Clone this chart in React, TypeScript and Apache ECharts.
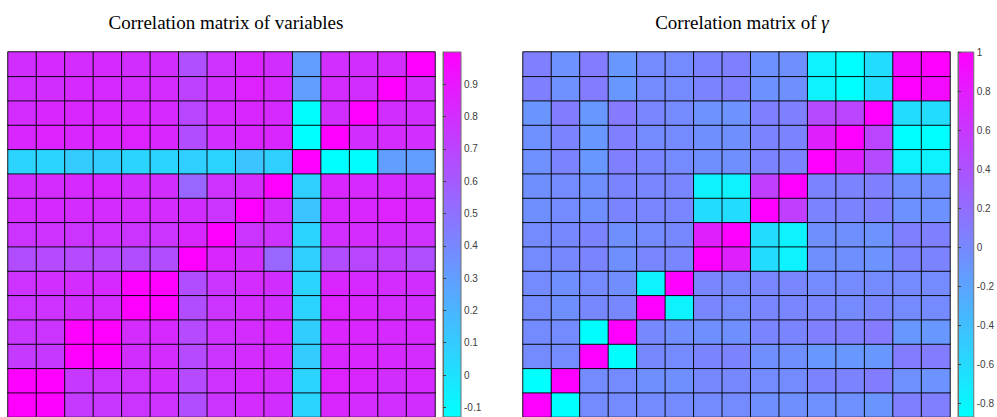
import React, { useEffect, useRef } from "react";
import * as echarts from "echarts";

const categories = ["1", "2", "3", "4", "5", "6", "7", "8", "9", "10", "11", "12", "13", "14", "15"];

// rows listed from the bottom row (index 0) to the top row (index 14)
const varCorr: number[][] = [
  [1.0, 0.99, 0.74, 0.76, 0.77, 0.78, 0.66, 0.77, 0.81, 0.8, 0.06, 0.83, 0.81, 0.79, 0.8],
  [0.99, 1.0, 0.75, 0.77, 0.78, 0.79, 0.67, 0.78, 0.82, 0.81, 0.06, 0.85, 0.83, 0.8, 0.82],
  [0.74, 0.75, 1.0, 0.99, 0.8, 0.81, 0.67, 0.77, 0.81, 0.82, 0.1, 0.83, 0.83, 0.82, 0.81],
  [0.76, 0.77, 0.99, 1.0, 0.81, 0.82, 0.67, 0.78, 0.81, 0.83, 0.09, 0.84, 0.83, 0.82, 0.82],
  [0.77, 0.78, 0.8, 0.81, 1.0, 0.99, 0.66, 0.77, 0.81, 0.8, 0.06, 0.85, 0.83, 0.81, 0.8],
  [0.78, 0.79, 0.81, 0.82, 0.99, 1.0, 0.66, 0.77, 0.81, 0.8, 0.06, 0.83, 0.82, 0.81, 0.8],
  [0.66, 0.67, 0.67, 0.67, 0.66, 0.66, 1.0, 0.83, 0.8, 0.55, 0.08, 0.66, 0.69, 0.71, 0.65],
  [0.77, 0.78, 0.77, 0.78, 0.77, 0.77, 0.83, 1.0, 0.77, 0.78, 0.06, 0.79, 0.81, 0.8, 0.78],
  [0.81, 0.82, 0.81, 0.81, 0.81, 0.81, 0.8, 0.77, 1.0, 0.81, 0.13, 0.83, 0.83, 0.85, 0.83],
  [0.8, 0.81, 0.82, 0.83, 0.8, 0.8, 0.55, 0.78, 0.81, 1.0, 0.08, 0.83, 0.82, 0.82, 0.8],
  [0.06, 0.06, 0.1, 0.09, 0.06, 0.06, 0.08, 0.06, 0.13, 0.08, 1.0, -0.13, -0.12, 0.3, 0.3],
  [0.83, 0.85, 0.83, 0.84, 0.85, 0.83, 0.66, 0.79, 0.83, 0.83, -0.13, 1.0, 0.8, 0.81, 0.79],
  [0.81, 0.83, 0.83, 0.83, 0.83, 0.82, 0.69, 0.81, 0.83, 0.82, -0.12, 0.8, 1.0, 0.8, 0.8],
  [0.79, 0.8, 0.82, 0.82, 0.81, 0.81, 0.71, 0.8, 0.85, 0.82, 0.3, 0.81, 0.8, 1.0, 0.81],
  [0.8, 0.82, 0.81, 0.82, 0.8, 0.8, 0.65, 0.78, 0.83, 0.8, 0.3, 0.79, 0.8, 0.81, 1.0],
];

const gammaCorr: number[][] = [
  [1.0, -0.87, -0.02, -0.02, -0.02, -0.02, -0.02, -0.02, -0.05, -0.05, -0.06, -0.06, -0.09, 0.06, 0.07],
  [-0.87, 1.0, -0.02, -0.02, -0.05, -0.05, 0.0, 0.0, -0.02, -0.02, 0.04, 0.04, 0.08, -0.06, -0.08],
  [-0.02, -0.02, 1.0, -0.86, 0.0, -0.01, 0.03, 0.04, -0.05, -0.05, -0.11, -0.11, -0.11, 0.09, 0.09],
  [-0.02, -0.02, -0.86, 1.0, 0.0, -0.04, -0.05, -0.05, 0.03, 0.03, 0.07, 0.07, 0.1, -0.11, -0.11],
  [-0.02, -0.05, 0.0, 0.0, 1.0, -0.78, 0.01, -0.01, 0.01, 0.01, 0.01, -0.01, 0.01, -0.01, -0.01],
  [-0.02, -0.05, -0.01, -0.04, -0.78, 1.0, 0.01, 0.0, 0.01, 0.01, -0.01, -0.01, -0.01, -0.01, -0.01],
  [-0.02, 0.0, 0.03, -0.05, 0.01, 0.01, 1.0, 0.77, -0.62, -0.77, -0.05, -0.05, -0.08, 0.04, 0.04],
  [-0.02, 0.0, 0.04, -0.05, -0.01, 0.0, 0.77, 1.0, -0.62, -0.77, -0.05, -0.05, -0.08, 0.06, 0.06],
  [-0.05, -0.02, -0.05, 0.03, 0.01, 0.01, -0.62, -0.62, 1.0, 0.54, 0.04, 0.04, 0.06, -0.07, -0.07],
  [-0.05, -0.02, -0.05, 0.03, 0.01, 0.01, -0.77, -0.77, 0.54, 1.0, 0.04, 0.04, 0.06, -0.05, -0.05],
  [-0.06, 0.04, -0.11, 0.07, 0.01, -0.01, -0.05, -0.05, 0.04, 0.04, 1.0, 0.77, 0.45, -0.77, -0.77],
  [-0.06, 0.04, -0.11, 0.07, -0.01, -0.01, -0.05, -0.05, 0.04, 0.04, 0.77, 1.0, 0.5, -0.87, -0.87],
  [-0.09, 0.08, -0.11, 0.1, 0.01, -0.01, -0.08, -0.08, 0.06, 0.06, 0.45, 0.5, 1.0, -0.62, -0.62],
  [0.06, -0.06, 0.09, -0.11, -0.01, -0.01, 0.04, 0.06, -0.07, -0.05, -0.77, -0.87, -0.62, 1.0, 0.92],
  [0.07, -0.08, 0.09, -0.11, -0.01, -0.01, 0.04, 0.06, -0.07, -0.05, -0.77, -0.87, -0.62, 0.92, 1.0],
];

const varRange = [-0.13, 1.0];
const gammaRange = [-0.87, 1.0];
const varTicks = [-0.1, 0, 0.1, 0.2, 0.3, 0.4, 0.5, 0.6, 0.7, 0.8, 0.9];
const gammaTicks = [-0.8, -0.6, -0.4, -0.2, 0, 0.2, 0.4, 0.6, 0.8, 1];
const titleLeft = "Correlation matrix of variables";
const titleRight = "Correlation matrix of ";
const titleSymbol = "γ";

const coolColors = ["#00ffff", "#ff00ff"];

function toCells(m: number[][]) {
  const out: number[][] = [];
  m.forEach((row, y) => row.forEach((v, x) => out.push([x, y, v])));
  return out;
}

export default function App() {
  const ref = useRef<HTMLDivElement>(null);
  useEffect(() => {
    if (!ref.current) return;
    const chart = echarts.init(ref.current, undefined, { renderer: "svg" });
    const barGrad = new echarts.graphic.LinearGradient(0, 0, 0, 1, [
      { offset: 0, color: coolColors[1] },
      { offset: 1, color: coolColors[0] },
    ]);
    const titleStyle = {
      fontFamily: "Liberation Serif",
      fontSize: 19,
      fontWeight: "normal" as const,
      color: "#000",
    };
    const hmAxis = (gi: number) => ({
      type: "category" as const,
      data: categories,
      gridIndex: gi,
      show: false,
    });
    const cbX = (gi: number) => ({ type: "value" as const, gridIndex: gi, show: false });
    const cbY = (gi: number, range: number[], ticks: number[]) => ({
      type: "value" as const,
      gridIndex: gi,
      min: range[0],
      max: range[1],
      position: "right" as const,
      axisLine: { show: true, lineStyle: { color: "#707070", width: 1 } },
      axisTick: { show: true, inside: false, length: 3, customValues: ticks, lineStyle: { color: "#404040" } },
      axisLabel: {
        customValues: ticks,
        fontSize: 10,
        color: "#404040",
        margin: 3,
        fontFamily: "Liberation Sans",
        formatter: (v: number) => String(v),
      },
      splitLine: { show: false },
    });
    const cellStyle = { borderColor: "rgba(0,0,0,0.9)", borderWidth: 1 };
    chart.setOption({
      animation: false,
      backgroundColor: "#fff",
      title: [
        { text: titleLeft, left: 221, top: 8, textAlign: "center", textStyle: titleStyle },
        {
          text: titleRight + "{g|" + titleSymbol + "}",
          left: 737,
          top: 8,
          textAlign: "center",
          textStyle: { ...titleStyle, rich: { g: { ...titleStyle, fontStyle: "italic" } } },
        },
      ],
      grid: [
        { left: 8, top: 52, width: 427, height: 365 },
        { left: 523, top: 52, width: 427, height: 365 },
        { left: 443, top: 52, width: 18, height: 365, show: true, backgroundColor: barGrad, borderColor: "#707070", borderWidth: 1 },
        { left: 958, top: 52, width: 18, height: 365, show: true, backgroundColor: barGrad, borderColor: "#707070", borderWidth: 1 },
      ],
      xAxis: [hmAxis(0), hmAxis(1), cbX(2), cbX(3)],
      yAxis: [hmAxis(0), hmAxis(1), cbY(2, varRange, varTicks), cbY(3, gammaRange, gammaTicks)],
      visualMap: [
        { type: "continuous", show: false, seriesIndex: 0, min: varRange[0], max: varRange[1], inRange: { color: coolColors } },
        { type: "continuous", show: false, seriesIndex: 1, min: gammaRange[0], max: gammaRange[1], inRange: { color: coolColors } },
      ],
      series: [
        { type: "heatmap", xAxisIndex: 0, yAxisIndex: 0, data: toCells(varCorr), itemStyle: cellStyle, emphasis: { disabled: true } },
        { type: "heatmap", xAxisIndex: 1, yAxisIndex: 1, data: toCells(gammaCorr), itemStyle: cellStyle, emphasis: { disabled: true } },
      ],
    });
    return () => chart.dispose();
  }, []);
  return <div ref={ref} style={{ position: "fixed", left: 0, top: 0, width: 997, height: 417 }} />;
}
